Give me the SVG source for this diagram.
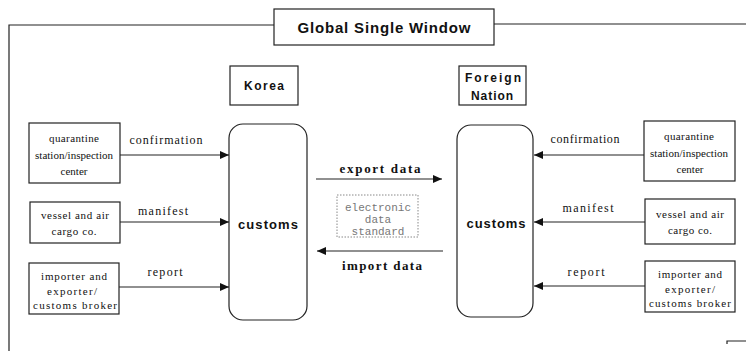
<svg xmlns="http://www.w3.org/2000/svg" width="746" height="351" viewBox="0 0 746 351">
<defs>
<style>
.box{fill:#fff;stroke:#222;stroke-width:1.2}
.frame{fill:none;stroke:#222;stroke-width:1.2}
.ln{fill:none;stroke:#222;stroke-width:1.2}
.dot{fill:#fff;stroke:#888;stroke-width:1;stroke-dasharray:1.5,1.5}
.bt{font-family:"Liberation Serif",serif;font-size:11px;fill:#111;text-anchor:middle}
.lb{font-family:"Liberation Serif",serif;font-size:12px;fill:#111;text-anchor:middle}
.hd{font-family:"Liberation Sans",sans-serif;font-weight:bold;fill:#111;text-anchor:middle}
.dt{font-family:"Liberation Serif",serif;font-weight:bold;font-size:13px;fill:#111;text-anchor:middle}
.ms{font-family:"Liberation Mono",monospace;font-size:11px;fill:#777;text-anchor:middle}
</style>
<marker id="ah" markerUnits="userSpaceOnUse" markerWidth="10" markerHeight="8" refX="9" refY="4" orient="auto">
<path d="M0,0 L9,4 L0,8 Z" fill="#111"/>
</marker>
</defs>
<rect width="746" height="351" fill="#fff"/>

<g id="frame">
<path class="frame" d="M9,351 L9,25 L274,25"/>
<path class="frame" d="M494,24 L746,24"/>
<path class="frame" d="M727,344 L727,341 L746,341"/>
</g>

<g id="title">
<rect class="box" x="274" y="9" width="220" height="36"/>
<text class="hd" x="384" y="33" font-size="15" textLength="173" lengthAdjust="spacing">Global Single Window</text>
</g>

<g id="korea">
<rect class="box" x="230" y="66" width="68" height="39"/>
<text class="hd" x="264" y="90" font-size="12" textLength="40" lengthAdjust="spacing">Korea</text>
</g>

<g id="foreign-nation">
<rect class="box" x="459" y="66" width="67" height="39"/>
<text class="hd" x="493" y="82" font-size="12" textLength="56" lengthAdjust="spacing">Foreign</text>
<text class="hd" x="492" y="100" font-size="12" textLength="42" lengthAdjust="spacing">Nation</text>
</g>

<g id="korea-customs">
<rect class="box" x="229" y="124" width="78" height="196" rx="14" ry="14"/>
<text class="hd" x="268" y="229" font-size="13" textLength="60" lengthAdjust="spacing">customs</text>
</g>

<g id="foreign-customs">
<rect class="box" x="457" y="125" width="76" height="192" rx="14" ry="14"/>
<text class="hd" x="496" y="228" font-size="13" textLength="59" lengthAdjust="spacing">customs</text>
</g>

<g id="left-quarantine">
<rect class="box" x="29" y="123" width="91" height="60"/>
<text class="bt" x="74" y="142" textLength="50" lengthAdjust="spacing">quarantine</text>
<text class="bt" x="74" y="159" textLength="78" lengthAdjust="spacing">station/inspection</text>
<text class="bt" x="74" y="175">center</text>
</g>

<g id="left-vessel">
<rect class="box" x="30" y="202" width="90" height="41"/>
<text class="bt" x="75" y="219" textLength="68" lengthAdjust="spacing">vessel and air</text>
<text class="bt" x="74" y="235" textLength="45" lengthAdjust="spacing">cargo co.</text>
</g>

<g id="left-importer">
<rect class="box" x="29" y="263" width="90" height="51"/>
<text class="bt" x="74" y="280" textLength="66" lengthAdjust="spacing">importer and</text>
<text class="bt" x="72" y="295" textLength="50" lengthAdjust="spacing">exporter/</text>
<text class="bt" x="75" y="309" textLength="84" lengthAdjust="spacing">customs broker</text>
</g>

<g id="right-quarantine">
<rect class="box" x="644" y="121" width="91" height="60"/>
<text class="bt" x="689" y="140" textLength="50" lengthAdjust="spacing">quarantine</text>
<text class="bt" x="689" y="157" textLength="78" lengthAdjust="spacing">station/inspection</text>
<text class="bt" x="690" y="173">center</text>
</g>

<g id="right-vessel">
<rect class="box" x="645" y="199" width="90" height="45"/>
<text class="bt" x="690" y="218" textLength="68" lengthAdjust="spacing">vessel and air</text>
<text class="bt" x="690" y="234" textLength="44" lengthAdjust="spacing">cargo co.</text>
</g>

<g id="right-importer">
<rect class="box" x="645" y="261" width="90" height="51"/>
<text class="bt" x="690" y="278" textLength="64" lengthAdjust="spacing">importer and</text>
<text class="bt" x="690" y="293" textLength="50" lengthAdjust="spacing">exporter/</text>
<text class="bt" x="690" y="307" textLength="82" lengthAdjust="spacing">customs broker</text>
</g>

<g id="eds">
<rect class="dot" x="337" y="195" width="81" height="42"/>
<text class="ms" x="378" y="211">electronic</text>
<text class="ms" x="378" y="223">data</text>
<text class="ms" x="378" y="235">standard</text>
</g>

<g id="connectors">
<line class="ln" x1="120" y1="155" x2="229" y2="155" marker-end="url(#ah)"/>
<line class="ln" x1="120" y1="222" x2="229" y2="222" marker-end="url(#ah)"/>
<line class="ln" x1="119" y1="287" x2="229" y2="287" marker-end="url(#ah)"/>
<line class="ln" x1="644" y1="155" x2="534" y2="155" marker-end="url(#ah)"/>
<line class="ln" x1="645" y1="222" x2="534" y2="222" marker-end="url(#ah)"/>
<line class="ln" x1="645" y1="286" x2="534" y2="286" marker-end="url(#ah)"/>
<line class="ln" x1="316" y1="179" x2="442" y2="179" marker-end="url(#ah)"/>
<line class="ln" x1="443" y1="251" x2="317" y2="251" marker-end="url(#ah)"/>
<text class="lb" x="166" y="144" textLength="73" lengthAdjust="spacing">confirmation</text>
<text class="lb" x="163" y="215" textLength="50" lengthAdjust="spacing">manifest</text>
<text class="lb" x="165" y="276" textLength="35" lengthAdjust="spacing">report</text>
<text class="lb" x="585" y="143" textLength="69" lengthAdjust="spacing">confirmation</text>
<text class="lb" x="588" y="212" textLength="51" lengthAdjust="spacing">manifest</text>
<text class="lb" x="586" y="276" textLength="37" lengthAdjust="spacing">report</text>
<text class="dt" x="380" y="173" textLength="81" lengthAdjust="spacing">export data</text>
<text class="dt" x="382" y="270" textLength="80" lengthAdjust="spacing">import data</text>
</g>
</svg>
